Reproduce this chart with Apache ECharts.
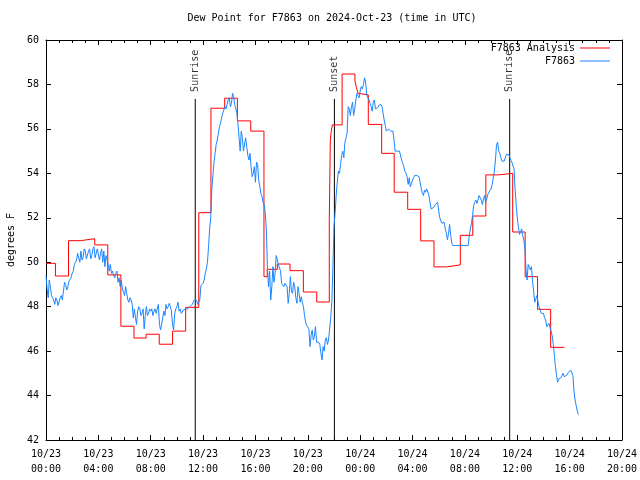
<!DOCTYPE html>
<html>
<head>
<meta charset="utf-8">
<script src="https://cdn.jsdelivr.net/npm/echarts@6/dist/echarts.min.js"></script>
<style>html,body{margin:0;padding:0;background:#fff}#c{width:640px;height:480px}</style>
</head>
<body>
<div id="c"></div>
<script>
// ---- data ----
const titleText = 'Dew Point for F7863 on 2024-Oct-23 (time in UTC)';
const xTickLabels = ['10/23\n00:00','10/23\n04:00','10/23\n08:00','10/23\n12:00','10/23\n16:00','10/23\n20:00',
                     '10/24\n00:00','10/24\n04:00','10/24\n08:00','10/24\n12:00','10/24\n16:00','10/24\n20:00'];
const seriesNames = ['F7863 Analysis', 'F7863'];

// Analysis (step) : hours since 10/23 00:00 UTC where each level starts
const analysisHours = [0, 0.72, 1.72, 2.65, 3.72, 4.72, 5.72, 6.72, 7.65, 8.65, 9.67, 10.67, 11.67, 12.6, 13.65,
  14.62, 15.64, 16.65, 16.9, 17.67, 18.64, 19.66, 20.68, 21.64, 21.72, 21.8, 21.88, 22.62, 23.6, 23.72, 23.84,
  23.94, 24.62, 25.64, 26.6, 27.63, 28.62, 29.64, 30.61, 31.65, 32.6, 33.6, 34.56, 35.65, 36.6, 37.55, 38.55, 39.6];
const analysisValues = [49.95, 49.38, 50.97, 51.06, 50.78, 49.43, 47.12, 46.59, 46.76, 46.31, 46.9, 47.97, 52.23, 56.93, 57.38,
  56.36, 55.9, 49.35, 49.68, 49.92, 49.62, 48.66, 48.21, 51.9, 55.5, 55.95, 56.18, 58.47, 58.15, 57.85, 57.6,
  57.53, 56.2, 54.9, 53.15, 52.38, 50.96, 49.79, 49.88, 51.21, 52.08, 53.93, 54.0, 51.36, 49.35, 47.88, 46.17, 46.17];

// Observations every 5 minutes from 10/23 00:00 UTC
const obsStepMinutes = 5;
const obsValues = [
  49.4, 48.8, 48.4, 49.2, 48.9, 48.5, 48.4, 48.3, 48.1, 48.4,
  48.3, 48.05, 48.0, 48.4, 48.5, 48.3, 48.7, 49.1, 49.0, 48.75,
  48.9, 49.15, 49.1, 49.3, 49.5, 49.6, 49.9, 50.0, 50.1, 50.4,
  50.2, 50.0, 50.5, 50.1, 50.2, 50.6, 50.5, 50.15, 50.1, 50.5,
  50.6, 50.15, 50.3, 50.6, 50.7, 50.2, 50.2, 50.6, 50.6, 50.1,
  50.4, 50.6, 50.0, 50.5, 49.8, 50.3, 50.1, 49.9, 49.6, 49.9,
  49.5, 49.6, 49.4, 49.3, 49.5, 49.6, 49.1, 49.3, 48.9, 49.2,
  48.8, 48.65, 48.5, 48.9, 48.6, 48.3, 48.2, 48.4, 48.3, 48.1,
  47.5, 47.9, 47.5, 47.2, 47.8, 48.0, 47.9, 47.6, 47.7, 47.9,
  47.0, 47.6, 48.0, 47.6, 47.7, 47.9, 47.8, 47.9, 47.6, 47.8,
  47.9, 47.7, 47.7, 48.1, 47.2, 46.95, 46.9, 47.5, 47.8, 47.6,
  48.1, 47.9, 48.0, 48.15, 48.0, 47.8, 47.2, 46.95, 47.7, 47.9,
  48.0, 48.2, 47.8, 47.9, 47.7, 47.75, 47.85, 47.85, 47.9, 47.9,
  47.9, 47.95, 48.0, 48.05, 48.1, 48.2, 48.3, 48.3, 48.3, 48.1,
  48.2, 48.3, 48.95, 48.9, 49.05, 49.2, 49.5, 49.7, 50.0, 50.7,
  51.5, 52.0, 53.3, 53.9, 54.5, 54.9, 55.3, 55.5, 55.8, 56.1,
  56.25, 56.5, 56.7, 56.85, 57.0, 56.9, 57.1, 57.3, 57.4, 57.0,
  57.15, 57.6, 57.45, 57.1, 56.9, 56.7, 56.2, 55.6, 55.0, 55.9,
  55.6, 55.0, 55.0, 55.6, 55.2, 54.8, 54.6, 54.9, 54.3, 53.85,
  54.0, 54.3, 53.6, 54.5, 54.4, 53.7, 53.4, 53.1, 52.95, 52.7,
  52.6, 52.2, 51.45, 49.7, 48.9, 49.6, 48.3, 48.9, 49.8, 49.1,
  49.5, 50.3, 50.25, 49.9, 49.95, 49.6, 49.05, 49.0, 48.9, 49.05,
  48.97, 48.9, 48.15, 48.6, 49.35, 48.7, 48.6, 49.1, 48.9, 48.4,
  48.15, 48.9, 48.6, 48.2, 48.45, 48.2, 48.0, 47.6, 47.3, 47.15,
  47.2, 47.0, 46.2, 46.7, 46.95, 46.5, 46.65, 47.1, 46.4, 46.35,
  46.4, 46.3, 45.9, 45.6, 46.2, 46.0, 46.5, 46.6, 46.3, 46.5,
  47.0, 47.5, 48.2, 49.8, 51.6, 52.2, 53.0, 53.6, 54.1, 54.0,
  54.4, 54.8, 55.0, 54.7, 55.4, 55.6, 55.8, 57.0, 56.9, 56.6,
  57.0, 57.2, 56.6, 56.9, 57.3, 57.6, 57.5, 57.4, 57.7, 57.9,
  57.8, 58.0, 58.3, 58.1, 57.55, 57.4, 57.3, 57.15, 57.0, 56.8,
  57.2, 57.3, 56.9, 56.85, 56.95, 57.05, 57.1, 57.1, 57.0, 56.7,
  56.4, 56.15, 55.9, 55.85, 56.0, 56.05, 55.9, 55.85, 55.9, 55.5,
  55.0, 55.0, 55.0, 54.95, 55.0, 55.05, 54.6, 54.45, 54.3, 54.1,
  54.0, 53.85, 53.5, 53.8, 53.4, 53.55, 53.7, 53.8, 53.9, 53.95,
  53.9, 53.85, 53.85, 53.9, 53.3, 53.1, 53.0, 53.25, 53.15, 53.3,
  53.35, 53.0, 52.7, 52.4, 52.4, 52.45, 52.5, 52.6, 52.6, 52.7,
  52.3, 52.0, 51.85, 51.75, 51.75, 51.8, 51.5, 51.3, 51.0, 51.3,
  51.7, 51.2, 50.85, 50.75, 50.75, 50.75, 50.75, 50.75, 50.75, 50.75,
  50.75, 50.75, 50.75, 50.75, 50.75, 50.75, 50.75, 50.75, 51.2, 51.5,
  51.75, 52.1, 52.55, 52.7, 52.8, 52.65, 52.8, 53.0, 53.05, 52.8,
  52.6, 52.85, 53.0, 52.7, 52.85, 53.05, 53.15, 53.2, 53.3, 53.5,
  53.8, 54.1, 54.6, 55.3, 55.4, 55.0, 54.9, 54.7, 54.55, 54.55,
  54.55, 54.6, 54.85, 54.9, 54.85, 54.75, 54.6, 54.5, 54.55, 54.2,
  53.3, 52.6, 52.0, 51.6, 51.25, 51.35, 51.5, 51.2, 51.0, 50.6,
  49.7, 49.2, 49.9, 49.95, 49.65, 49.8, 49.15, 48.7, 48.2, 48.35,
  48.5, 48.2, 48.0, 47.85, 47.7, 47.65, 47.7, 47.5, 47.4, 47.1,
  47.1, 47.25, 47.2, 46.9, 46.7, 46.3, 45.8, 45.3, 44.9, 44.6,
  44.75, 44.8, 44.8, 44.85, 45.0, 44.85, 44.8, 44.9, 44.95, 45.05,
  45.1, 45.15, 45.2, 44.9, 44.2, 43.8, 43.55, 43.3, 43.15
];

// Sun events (hours since 10/23 00:00 UTC)
const sunHours = [11.4, 22.03, 35.42];
const sunLabels = ['Sunrise', 'Sunset', 'Sunrise'];
const sunLineTop = 57.35;

const yMin = 42, yMax = 60, yStep = 2;
const xMin = 0, xMax = 44, xStep = 4;

// ---- chart ----
const FONT = 'DejaVu Sans Mono';
const chart = echarts.init(document.getElementById('c'), null, {renderer: 'canvas'});

const analysisData = analysisHours.map((h, i) => [h, analysisValues[i]]);
const obsData = obsValues.map((v, i) => [i * obsStepMinutes / 60, v]);

const sunLineSeries = sunHours.map(h => ({
  type: 'line', silent: true, symbol: 'none', animation: false,
  lineStyle: {color: '#000', width: 1},
  data: [[h, yMin], [h, sunLineTop]]
}));

const sunLabelSeries = {
  type: 'scatter', silent: true, symbolSize: 0, animation: false,
  data: sunHours.map((h, i) => ({
    value: [h, sunLineTop],
    label: {
      show: true, formatter: sunLabels[i], position: [0, -7], rotate: 90,
      align: 'left', verticalAlign: 'middle',
      fontFamily: FONT, fontSize: 10, color: '#000'
    }
  }))
};

function xAxisOpt(pos, showLabels) {
  return {
    type: 'value', min: xMin, max: xMax, interval: xStep, position: pos,
    axisLine: {show: true, onZero: false, lineStyle: {color: '#000', width: 1}},
    axisTick: {show: true, inside: true, length: 5, lineStyle: {color: '#000'}},
    minorTick: {show: true, splitNumber: 4, length: 3, lineStyle: {color: '#000'}},
    splitLine: {show: false},
    axisLabel: showLabels ? {
      margin: 7, lineHeight: 15, fontFamily: FONT, fontSize: 10, color: '#000',
      formatter: v => xTickLabels[Math.round((v - xMin) / xStep)] || ''
    } : {show: false}
  };
}
function yAxisOpt(pos, showLabels) {
  const o = {
    type: 'value', min: yMin, max: yMax, interval: yStep, position: pos,
    axisLine: {show: true, onZero: false, lineStyle: {color: '#000', width: 1}},
    axisTick: {show: true, inside: true, length: 5, lineStyle: {color: '#000'}},
    splitLine: {show: false},
    axisLabel: showLabels ? {margin: 7, fontFamily: FONT, fontSize: 10, color: '#000'} : {show: false}
  };
  if (showLabels) {
    o.name = 'degrees F';
    o.nameLocation = 'middle';
    o.nameGap = 30;
    o.nameRotate = 90;
    o.nameTextStyle = {fontFamily: FONT, fontSize: 10, color: '#000'};
  }
  return o;
}

const legendCommon = {
  padding: 0, align: 'right', icon: 'rect', itemWidth: 30, itemHeight: 1,
  textStyle: {fontFamily: FONT, fontSize: 10, color: '#000'}
};

chart.setOption({
  animation: false,
  backgroundColor: '#fff',
  title: {
    text: titleText, left: 332, top: 13, textAlign: 'center', padding: 0,
    textStyle: {fontFamily: FONT, fontSize: 10, fontWeight: 'normal', color: '#000'}
  },
  legend: [
    Object.assign({data: [seriesNames[0]], right: 30, top: 43}, legendCommon),
    Object.assign({data: [seriesNames[1]], right: 30, top: 56}, legendCommon)
  ],
  grid: {left: 46, right: 18, top: 40, bottom: 40, containLabel: false, outerBoundsMode: 'none'},
  xAxis: [xAxisOpt('bottom', true), xAxisOpt('top', false)],
  yAxis: [yAxisOpt('left', true), yAxisOpt('right', false)],
  series: [
    ...sunLineSeries,
    sunLabelSeries,
    {
      name: seriesNames[0], type: 'line', step: 'end', symbol: 'none', animation: false,
      color: '#ff0000', lineStyle: {color: '#ff0000', width: 1},
      data: analysisData
    },
    {
      name: seriesNames[1], type: 'line', symbol: 'none', animation: false,
      color: '#1a85ff', lineStyle: {color: '#1a85ff', width: 1},
      data: obsData
    }
  ]
});
</script>
</body>
</html>
